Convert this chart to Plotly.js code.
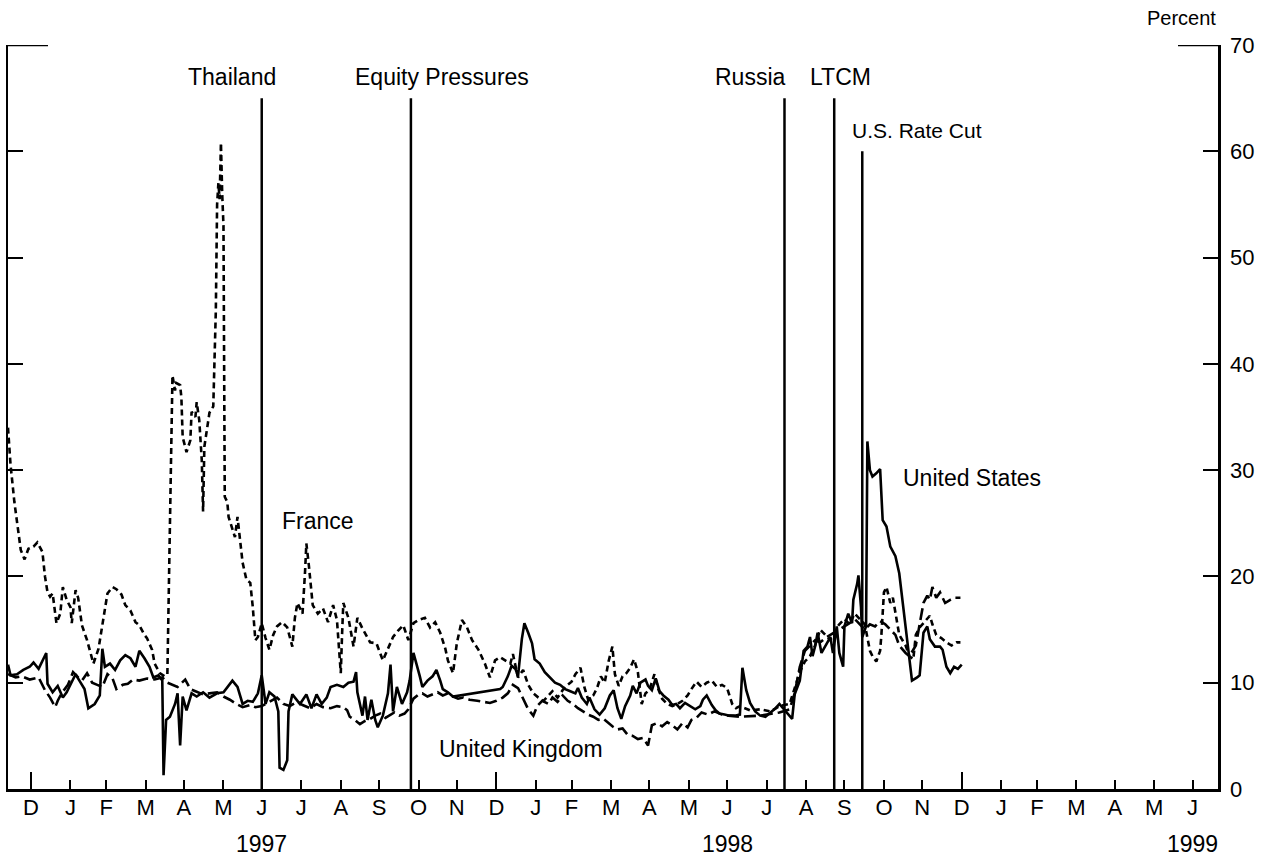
<!DOCTYPE html>
<html><head><meta charset="utf-8">
<script src="https://cdn.plot.ly/plotly-3.0.1.min.js"></script>
<style>html,body{margin:0;padding:0;background:#fff}#chart{width:1272px;height:859px}</style>
</head><body><div id="chart"></div>
<script>
// x values are days after 1 January 1997
const usDays = [
 -18,-16,-11,-6,-1,2,6,9,12,13, 17,21,25,28,32,35,38,42,45,50,
 54,56,58,62,66,70,74,78,82,85, 89,93,96,100,103,104,106,109,113,115,
 117,119,122,126,130,135,140,146,151,155, 158,162,166,170,174,178,181,184,187,191,
 194,195,198,201,202,205,211,216,220,224, 228,232,235,240,245,249,253,255,256,260,
 262,264,267,270,272,276,280,282,284,287, 291,295,297,300,303,305,307,311,315,318,
 321,323,327,331,368,370,374,377,380,382, 385,387,390,393,395,399,403,407,411,415,
 419,423,427,429,432,436,438,442,446,450, 454,457,460,463,466,470,472,475,478,482,
 484,487,490,493,496,500,503,506,509,513, 517,521,525,527,530,534,537,540,544,548,
 552,556,558,561,564,568,572,576,580,584, 587,591,597,599,603,606,609,611,613,615,
 617,620,623,627,629,632,634,637,638,641, 644,645,648,649,651,652,655,656,658,660,
 663,666,668,671,674,678,681,684,687,689, 691,695,697,700,703,705,709,713,715,718,
 721,724,727,730];
const usValues = [
 11.7,10.7,10.8,11.2,11.5,11.9,11.3,12.1,12.8,9.9, 9.1,9.7,8.6,9.1,10.1,10.8,10.2,9.4,7.6,8.0,
 8.8,13.2,11.5,11.8,11.2,12.1,12.6,12.3,11.5,13.0, 12.3,11.5,10.5,10.7,10.2,1.3,6.5,6.8,8.0,9.0,
 4.1,8.7,7.4,9.0,8.7,9.1,8.6,9.0,9.1,9.7, 10.2,9.6,8.0,8.3,8.2,9.0,10.7,8.0,9.1,8.7,
 7.3,2.0,1.8,2.7,7.3,8.9,8.0,8.9,7.6,8.9, 8.0,8.6,9.6,9.8,9.6,10.0,10.1,11.0,9.1,6.9,
 8.7,6.5,8.4,6.5,5.8,6.9,9.0,11.7,7.3,9.6, 8.0,9.1,10.2,12.8,11.6,10.6,9.6,10.2,10.6,11.2,
 10.2,9.4,9.1,8.7,9.4,9.6,10.6,11.6,11.3,10.6, 14.1,15.6,14.7,13.7,12.2,11.8,11.0,10.5,10.0,9.8,
 9.4,9.2,9.0,9.5,8.6,8.0,8.6,7.5,7.0,7.6, 8.8,9.3,7.6,6.6,7.8,8.8,9.7,9.0,10.0,10.3,
 9.7,9.3,10.4,9.2,8.8,8.4,7.9,8.0,7.6,8.1, 7.8,7.5,7.8,8.4,8.8,7.9,7.4,7.1,7.0,6.9,
 6.9,7.0,11.4,9.3,8.1,7.3,6.9,6.8,7.2,7.6, 8.0,7.4,6.6,8.9,10.2,13.0,13.4,14.3,12.5,13.4,
 14.7,12.8,13.4,14.3,12.8,15.3,12.8,11.5,15.3,16.5, 15.6,17.8,19.3,20.1,17.1,14.3,15.3,32.7,30.0,29.4,
 29.7,30.1,25.3,24.7,22.8,21.9,20.3,17.1,14.3,12.2, 10.2,10.5,10.7,14.7,15.3,14.1,13.4,13.4,13.1,11.5,
 10.9,11.5,11.3,11.7];

const franceDays = [
 -18,-16,-13,-10,-8,-5,-2,2,5,9, 11,13,15,17,20,23,25,28,31,32,
 35,37,40,44,46,49,53,57,60,64, 67,71,74,78,82,85,89,91,95,97,
 101,105,107,111,113,114,117,118,119,122, 125,126,129,130,132,134,135,136,138,140,
 143,145,146,147,148,149,150,151,152,154, 155,158,160,162,163,164,166,169,172,174,
 176,178,181,184,187,190,193,197,201,205, 207,209,213,215,216,218,220,221,225,229,
 233,237,240,242,243,244,245,249,253,256, 260,266,271,276,280,284,288,292,296,300,
 304,309,313,317,321,325,327,331,334,338, 342,346,351,356,360,364,368,372,376,378,
 382,386,390,394,398,402,406,409,413,417, 421,424,427,431,434,437,441,444,447,450,
 453,456,458,461,464,467,470,473,476,479, 482,485,489,492,495,499,503,507,511,515,
 518,522,526,530,534,538,542,546,550,553, 556,564,572,580,587,595,599,603,607,611,
 615,619,623,627,631,634,638,642,646,650, 654,658,660,663,666,667,669,671,674,676,
 679,681,686,689,692,694,697,701,705,707, 710,714,718,722,726,729];
const franceValues = [
 34.0,30.5,27.0,24.0,22.5,21.6,22.6,22.8,23.2,22.3, 20.0,18.5,18.1,18.4,15.6,16.5,19.0,17.8,17.1,15.6,
 18.7,18.0,15.4,14.0,13.1,11.8,13.2,16.2,18.4,19.0, 18.8,18.3,17.3,16.8,15.7,15.4,14.5,14.2,13.1,11.8,
 10.9,10.6,10.8,38.9,37.5,38.2,38.0,36.8,33.1,31.7, 32.8,35.5,35.0,36.4,34.7,30.9,26.1,32.2,33.8,35.4,
 36.0,45.0,55.0,57.0,55.5,60.8,56.0,53.0,27.5,27.0, 25.6,24.4,23.7,25.6,24.4,23.1,21.3,19.7,19.4,17.1,
 14.0,14.3,15.6,14.2,13.1,14.5,15.3,15.7,15.2,13.4, 16.1,17.5,16.5,20.5,23.1,21.0,18.0,17.3,16.5,17.0,
 15.7,17.3,15.9,13.0,10.9,14.5,17.5,16.1,13.4,16.1, 15.1,13.8,13.7,12.1,13.2,14.3,14.9,15.4,14.0,15.6,
 15.9,16.1,15.2,15.7,14.7,13.2,12.1,10.9,13.7,15.9, 15.2,14.0,13.1,11.8,10.5,12.1,12.4,12.1,11.8,12.7,
 10.5,11.2,9.8,9.0,8.6,8.3,8.8,9.2,8.6,9.3, 9.8,10.1,10.8,11.4,9.6,8.4,8.8,9.5,10.6,10.0,
 12.0,13.4,10.8,9.7,10.6,10.9,11.4,12.2,11.0,8.0, 9.0,9.3,10.8,9.4,8.5,8.0,7.8,8.0,8.3,8.8,
 9.4,10.1,9.6,10.0,10.2,9.6,9.8,9.5,8.0,7.6, 7.8,7.4,7.5,7.3,7.8,8.0,9.5,11.0,12.0,12.5,
 13.5,15.0,14.5,14.0,15.0,15.5,16.0,15.5,16.5,16.0, 15.5,13.0,12.5,12.0,13.0,14.5,18.5,19.0,17.5,18.0,
 16.0,14.5,13.5,12.5,12.2,14.5,15.2,15.8,16.3,15.5, 14.5,14.2,13.8,13.5,13.8,13.8];

const ukDays = [
 -18,-12,-7,-1,6,11,15,19,21,24, 29,33,37,40,44,48,52,56,60,64,
 67,72,76,80,85,91,97,103,107,111, 115,121,125,129,135,140,146,151,156,161,
 166,172,176,181,187,193,198,203,209,213, 219,224,229,235,240,245,248,250,254,258,
 262,266,270,274,278,282,285,289,293,296, 300,304,307,311,315,319,323,327,331,335,
 339,344,350,355,360,365,370,374,378,382, 386,390,394,397,401,406,409,413,417,421,
 425,429,433,437,441,445,449,453,456,460, 464,468,472,476,480,484,487,491,495,499,
 503,507,511,515,518,522,526,531,536,542, 547,556,572,587,595,599,603,607,611,615,
 619,623,627,631,634,638,642,646,650,654, 658,662,666,670,674,678,681,686,689,694,
 697,700,703,705,707,710,713,717,721,724, 729];
const ukValues = [
 10.8,10.5,10.6,10.3,10.5,9.3,8.6,7.7,8.3,9.0, 9.8,11.0,10.5,10.2,10.9,10.0,9.8,9.6,10.8,10.4,
 9.4,9.8,9.9,10.3,10.2,10.4,10.3,10.5,10.0,9.8, 9.6,10.3,9.4,9.2,8.9,9.0,9.1,8.7,8.4,8.0,
 7.7,7.9,7.7,7.8,8.2,8.6,8.0,7.8,8.2,7.9, 7.6,8.0,7.7,7.6,7.8,7.7,7.4,6.8,6.5,6.1,
 6.4,6.6,6.9,7.1,6.7,7.0,7.2,6.9,7.1,7.5, 8.5,8.9,9.0,8.7,8.9,9.1,8.8,9.0,8.7,8.5,
 8.6,8.4,8.3,8.2,8.1,8.3,8.6,9.0,9.8,9.5, 8.5,7.5,6.9,7.8,8.3,8.0,8.6,8.2,8.8,8.3,
 8.0,7.6,7.3,7.0,6.8,6.5,6.6,6.2,5.9,5.6, 5.7,5.1,5.0,4.7,4.8,4.1,6.0,6.2,5.9,6.3,
 6.0,5.6,6.2,5.8,6.5,6.7,7.2,7.0,7.3,7.0, 6.9,6.8,6.9,7.2,7.5,9.0,11.5,13.0,13.5,14.0,
 13.8,14.2,14.5,14.8,15.0,15.3,15.6,16.0,15.5,15.0, 15.5,15.3,15.8,15.5,15.0,14.5,13.5,12.8,12.5,13.5,
 15.5,17.5,18.2,17.8,19.0,18.0,18.5,17.5,17.8,18.0, 18.0];

const monthTickLabels = ['D','J','F','M','A','M','J','J','A','S','O','N',
  'D','J','F','M','A','M','J','J','A','S','O','N',
  'D','J','F','M','A','M','J'];
const yearLabels = ['1997','1998','1999'];
const yearLabelDates = ['1997-07-01','1998-07-01','1999-07-01'];
const yearTickDates = ['1997-01-01','1998-01-01','1999-01-01'];

const eventDates = ['1997-07-01','1997-10-26','1998-08-15','1998-09-23','1998-10-15'];
const eventTops = [65,65,65,65,60];
const eventLabels = ['Thailand','Equity Pressures','Russia','LTCM','U.S. Rate Cut'];
const eventLabelDates = ['1997-06-08','1997-11-19','1998-07-19','1998-09-28','1998-11-27'];
const eventLabelY = [67,67,67,67,62];

const seriesNames = ['France','United States','United Kingdom'];
const seriesLabelDates = ['1997-08-14','1999-01-09','1998-01-20'];
const seriesLabelY = [25.2,29.3,3.8];

function toDate(d){ return new Date(Date.UTC(1997,0,1) + d*864e5).toISOString().slice(0,10); }

const monthTickDates = [];
for (let i = 0; i < monthTickLabels.length; i++) {
  monthTickDates.push(new Date(Date.UTC(1997, i, 1)).toISOString().slice(0,10));
}

const FONT = 'Liberation Sans, Arial, Helvetica, sans-serif';
const XR = ['1996-12-14','1999-07-21'];
const LW = 2.6;

const traces = [
  {x: franceDays.map(toDate), y: franceValues, mode:'lines', name:'France', xaxis:'x', yaxis:'y2',
   line:{color:'#000', width:LW, dash:'6px,4px'}, hoverinfo:'skip'},
  {x: ukDays.map(toDate), y: ukValues, mode:'lines', name:'United Kingdom', xaxis:'x2', yaxis:'y',
   line:{color:'#000', width:LW, dash:'12px,5px'}, hoverinfo:'skip'},
  {x: usDays.map(toDate), y: usValues, mode:'lines', name:'United States', xaxis:'x', yaxis:'y',
   line:{color:'#000', width:LW}, hoverinfo:'skip'}
];

const shapes = [];
eventDates.forEach((d,i)=>{
  shapes.push({type:'line', xref:'x', yref:'y', x0:d, x1:d, y0:0, y1:eventTops[i],
    line:{color:'#000', width:2.5}});
});
// top stubs of the frame
shapes.push({type:'line', xref:'paper', yref:'y', x0:0, x1:40/1210, y0:70, y1:70, line:{color:'#000', width:2.5}});
shapes.push({type:'line', xref:'paper', yref:'y', x0:1-40/1210, x1:1, y0:70, y1:70, line:{color:'#000', width:2.5}});

const annotations = [];
eventLabels.forEach((t,i)=>annotations.push({text:t, x:eventLabelDates[i], y:eventLabelY[i], xref:'x', yref:'y',
  xanchor:'center', yanchor:'middle', showarrow:false,
  font:{family:FONT, size:(t === 'U.S. Rate Cut' ? 21 : 23), color:'#000'}}));
seriesNames.forEach((t,i)=>annotations.push({text:t, x:seriesLabelDates[i], y:seriesLabelY[i], xref:'x', yref:'y',
  xanchor:'center', yanchor:'middle', showarrow:false, font:{family:FONT, size:23, color:'#000'}}));
yearLabels.forEach((t,i)=>annotations.push({text:t, x:yearLabelDates[i], y:-0.074, xref:'x', yref:'paper',
  xanchor:'center', yanchor:'middle', showarrow:false, font:{family:FONT, size:23, color:'#000'}}));
annotations.push({text:'Percent', x:1, y:1.0363, xref:'paper', yref:'paper', xanchor:'right', yanchor:'middle',
  showarrow:false, font:{family:FONT, size:20, color:'#000'}});

const layout = {
  width:1272, height:859,
  margin:{l:8, r:54, t:45, b:70, pad:0},
  paper_bgcolor:'#fff', plot_bgcolor:'#fff',
  showlegend:false,
  font:{family:FONT, size:22, color:'#000'},
  xaxis:{type:'date', range:XR, tickmode:'array', tickvals:monthTickDates, ticktext:monthTickLabels,
    ticks:'inside', ticklen:9, tickwidth:2, tickcolor:'#000', showline:true, linewidth:2.5, linecolor:'#000',
    showgrid:false, zeroline:false, tickfont:{family:FONT, size:22, color:'#000'}, ticklabelstandoff:-3},
  xaxis2:{type:'date', range:XR, overlaying:'x', anchor:'y', side:'bottom', tickmode:'array', tickvals:yearTickDates,
    ticks:'inside', ticklen:17, tickwidth:2, tickcolor:'#000', showticklabels:false, showline:false,
    showgrid:false, zeroline:false},
  yaxis:{range:[0,70], side:'right', anchor:'x', tickmode:'array', tickvals:[0,10,20,30,40,50,60,70],
    ticks:'inside', ticklen:15, tickwidth:2, tickcolor:'#000', showline:true, linewidth:2.5, linecolor:'#000',
    showgrid:false, zeroline:false, tickfont:{family:FONT, size:22, color:'#000'}, ticklabelstandoff:5},
  yaxis2:{range:[0,70], overlaying:'y', anchor:'x', side:'left', tickmode:'array', tickvals:[10,20,30,40,50,60],
    ticks:'inside', ticklen:15, tickwidth:2, tickcolor:'#000', showline:true, linewidth:2.5, linecolor:'#000',
    showticklabels:false, showgrid:false, zeroline:false},
  shapes: shapes,
  annotations: annotations
};

Plotly.newPlot('chart', traces, layout, {staticPlot:true, displayModeBar:false});
</script>
</body></html>
